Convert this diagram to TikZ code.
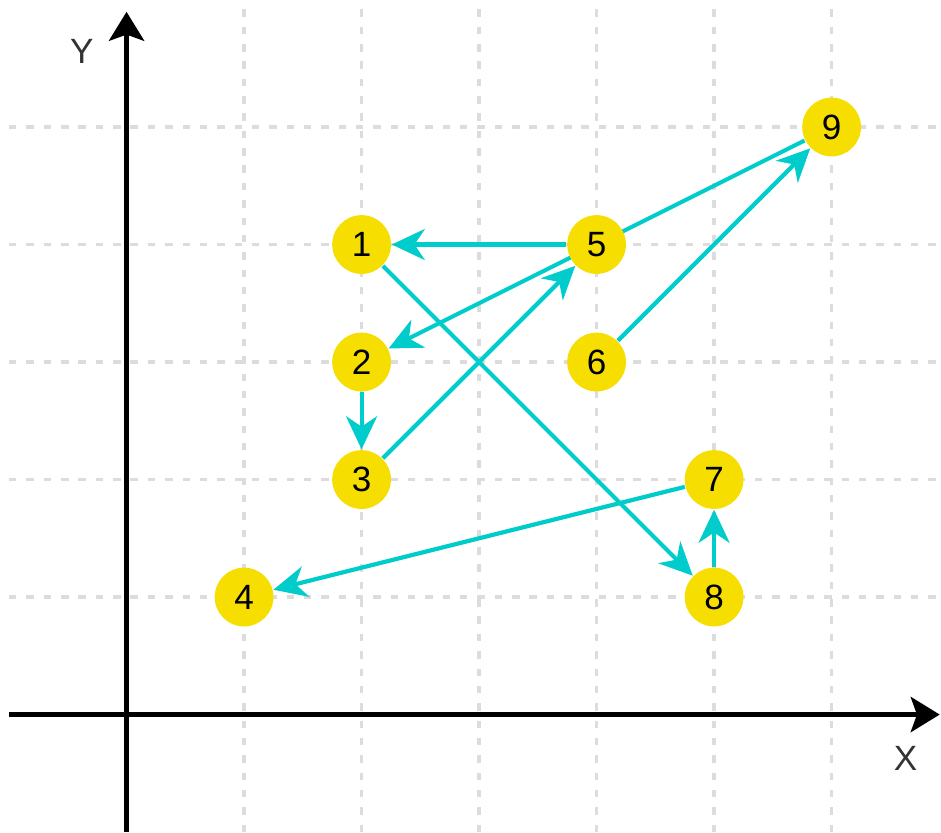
\documentclass[tikz,border=0pt]{standalone}
\usepackage{fontspec}
\setmainfont{Liberation Sans}
\usepackage{tikz}
\usetikzlibrary{arrows.meta, backgrounds}
\definecolor{pointyellow}{RGB}{245, 222, 0}
\definecolor{linkcyan}{RGB}{0, 204, 204}
\definecolor{gridgray}{RGB}{220, 220, 220}
\definecolor{labelgray}{RGB}{51, 51, 51}

\begin{document}
\begin{tikzpicture}[x=1cm, y=1cm]
    % Styles
    \tikzstyle{point} = [circle, fill=pointyellow, inner sep=0pt, minimum size=0.5cm, font=\fontsize{8.5}{10}\selectfont]
    \tikzstyle{gridline} = [gridgray, line width=0.8pt, dash pattern=on 1.8pt off 2.4pt]
    \tikzstyle{axis} = [line width=1.2pt, -{Stealth[length=7pt, width=8.5pt, inset=1.5pt]}]
    \tikzstyle{arrow} = [line width=1pt, linkcyan, -{Stealth[length=8pt, width=7.5pt, inset=2.5pt]}]
    \tikzstyle{axislabel} = [labelgray, font=\fontsize{8.5}{10}\selectfont]

    \useasboundingbox (-1.077,-1.0) rectangle (6.931,6.081);

    % Nodes
    \node [point] (p1) at (2,4) {1};
    \node [point] (p2) at (2,3) {2};
    \node [point] (p3) at (2,2) {3};
    \node [point] (p4) at (1,1) {4};
    \node [point] (p5) at (4,4) {5};
    \node [point] (p6) at (4,3) {6};
    \node [point] (p7) at (5,2) {7};
    \node [point] (p8) at (5,1) {8};
    \node [point] (p9) at (6,5) {9};

    % Axis labels
    \node [axislabel] (xlabel) at (6.63,-0.37) {X};
    \node [axislabel] (ylabel) at (-0.38,5.64) {Y};

    \begin{scope}[on background layer]
        % Grid
        \foreach \i in {1,...,6}
            \draw [gridline] (\i,-1) -- (\i,6.081);
        \foreach \j in {1,...,5}
            \draw [gridline] (-1,\j) -- (6.9,\j);

        % Axes
        \coordinate (xstart) at (-1,0);
        \coordinate (xend) at (6.92,0);
        \coordinate (ystart) at (0,-1.0);
        \coordinate (yend) at (0,5.98);
        \draw [axis] (xstart) -- (xend);
        \draw [axis] (ystart) -- (yend);

        % Arrows
        \draw [arrow] (p1) -- (p8);
        \draw [arrow] (p8) -- (p7);
        \draw [arrow] (p7) -- (p4);
        \draw [arrow] (p2) -- (p3);
        \draw [arrow] (p3) -- (p5);
        \draw [arrow] (p5) -- (p1);
        \draw [arrow] (p6) -- (p9);
        \draw [arrow] (p9) -- (p2);
    \end{scope}
\end{tikzpicture}
\end{document}
